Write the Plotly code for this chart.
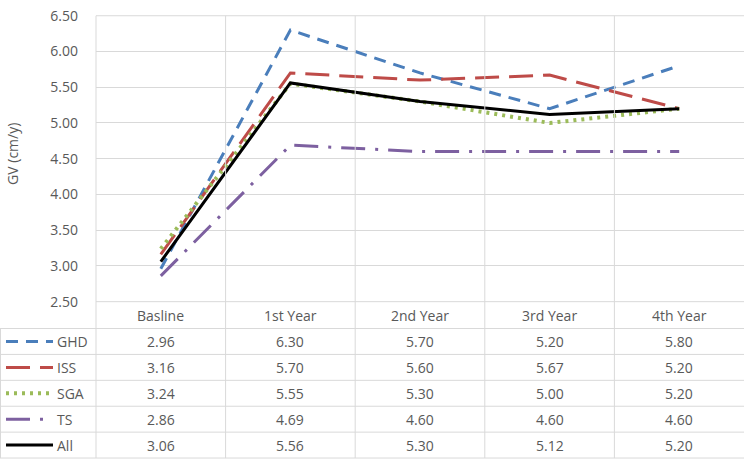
import plotly.graph_objects as go

categories = ["Basline", "1st Year", "2nd Year", "3rd Year", "4th Year"]
series_names = ["GHD", "ISS", "SGA", "TS", "All"]
ghd = [2.96, 6.30, 5.70, 5.20, 5.80]
iss = [3.16, 5.70, 5.60, 5.67, 5.20]
sga = [3.24, 5.55, 5.30, 5.00, 5.20]
ts = [2.86, 4.69, 4.60, 4.60, 4.60]
all_ = [3.06, 5.56, 5.30, 5.12, 5.20]
y_ticks = [2.5, 3.0, 3.5, 4.0, 4.5, 5.0, 5.5, 6.0, 6.5]

series = [ghd, iss, sga, ts, all_]
colors = ["#4a7ebb", "#be4b48", "#9bbb59", "#7d60a0", "#000000"]
dashes = ["12px,8px", "24px,10px", "3px,5px", "24px,10px,3px,10px", "solid"]
widths = [3, 3, 4, 3, 3]

W, H = 744, 468
PL, PR, PT, PB = 96, 744, 6, 304
ROW_TOP = 332
ROW_H = 27
GRID = "#d9d9d9"
TXT = "#595959"
FONT = "Open Sans"
FS = 14

def px(x):
    return x / W

def py(y):
    return (H - y) / H

x_idx = list(range(len(categories)))

fig = go.Figure()
for name, vals, c, d, w in zip(series_names, series, colors, dashes, widths):
    fig.add_trace(go.Scatter(x=x_idx, y=vals, mode="lines", name=name,
                             line=dict(color=c, dash=d, width=w),
                             showlegend=False, hoverinfo="skip"))

shapes = []
shapes.append(dict(type="line", xref="paper", yref="paper", x0=px(PL), x1=1,
                   y0=py(PT), y1=py(PT), line=dict(color=GRID, width=1)))
shapes.append(dict(type="line", xref="paper", yref="paper", x0=px(PL), x1=1,
                   y0=py(PB), y1=py(PB), line=dict(color=GRID, width=1)))
n = len(series_names)
for r in range(n + 1):
    yy = ROW_TOP + r * ROW_H
    shapes.append(dict(type="line", xref="paper", yref="paper", x0=0, x1=1,
                       y0=py(yy), y1=py(yy), line=dict(color=GRID, width=1)))
bottom = ROW_TOP + n * ROW_H
shapes.append(dict(type="line", xref="paper", yref="paper", x0=px(0.5), x1=px(0.5),
                   y0=py(ROW_TOP), y1=py(bottom), line=dict(color=GRID, width=1)))
colw = (PR - PL) / len(categories)
for i in range(len(categories)):
    xx = PL + i * colw
    shapes.append(dict(type="line", xref="paper", yref="paper", x0=px(xx), x1=px(xx),
                       y0=py(PT), y1=py(bottom), line=dict(color=GRID, width=1)))

annotations = []
for i, cat in enumerate(categories):
    annotations.append(dict(x=i, xref="x", y=py((PB + ROW_TOP) / 2), yref="paper",
                            text=cat, showarrow=False, xanchor="center", yanchor="middle",
                            font=dict(family=FONT, size=FS, color=TXT)))
for r, (name, vals, c, d, w) in enumerate(zip(series_names, series, colors, dashes, widths)):
    yc = ROW_TOP + r * ROW_H + ROW_H / 2
    shapes.append(dict(type="line", xref="paper", yref="paper", x0=px(6), x1=px(53),
                       y0=py(yc), y1=py(yc), line=dict(color=c, dash=d, width=w)))
    annotations.append(dict(x=px(55), xref="paper", y=py(yc), yref="paper", text=name,
                            showarrow=False, xanchor="left", yanchor="middle",
                            font=dict(family=FONT, size=FS, color=TXT)))
    for i, v in enumerate(vals):
        annotations.append(dict(x=i, xref="x", y=py(yc), yref="paper", text=f"{v:.2f}",
                                showarrow=False, xanchor="center", yanchor="middle",
                                font=dict(family=FONT, size=FS, color=TXT)))
annotations.append(dict(x=px(13), xref="paper", y=py(150), yref="paper", text="GV (cm/y)",
                        textangle=-90, showarrow=False, xanchor="center", yanchor="middle",
                        font=dict(family=FONT, size=14, color=TXT)))

fig.update_layout(
    width=W, height=H, margin=dict(l=0, r=0, t=0, b=0),
    paper_bgcolor="white", plot_bgcolor="white",
    font=dict(family=FONT, size=FS, color=TXT),
    xaxis=dict(domain=[px(PL), px(PR)], range=[-0.5, len(categories) - 0.5],
               showticklabels=False, showgrid=False, zeroline=False, ticks=""),
    yaxis=dict(domain=[py(PB), py(PT)], range=[y_ticks[0], y_ticks[-1]],
               tickvals=y_ticks, tickformat=".2f", showgrid=True, gridcolor=GRID,
               gridwidth=1, zeroline=False, ticks="", ticklabelstandoff=17,
               ticklabeloverflow="allow",
               tickfont=dict(family=FONT, size=FS, color=TXT)),
    shapes=shapes, annotations=annotations,
)

fig.write_html("out.html")
